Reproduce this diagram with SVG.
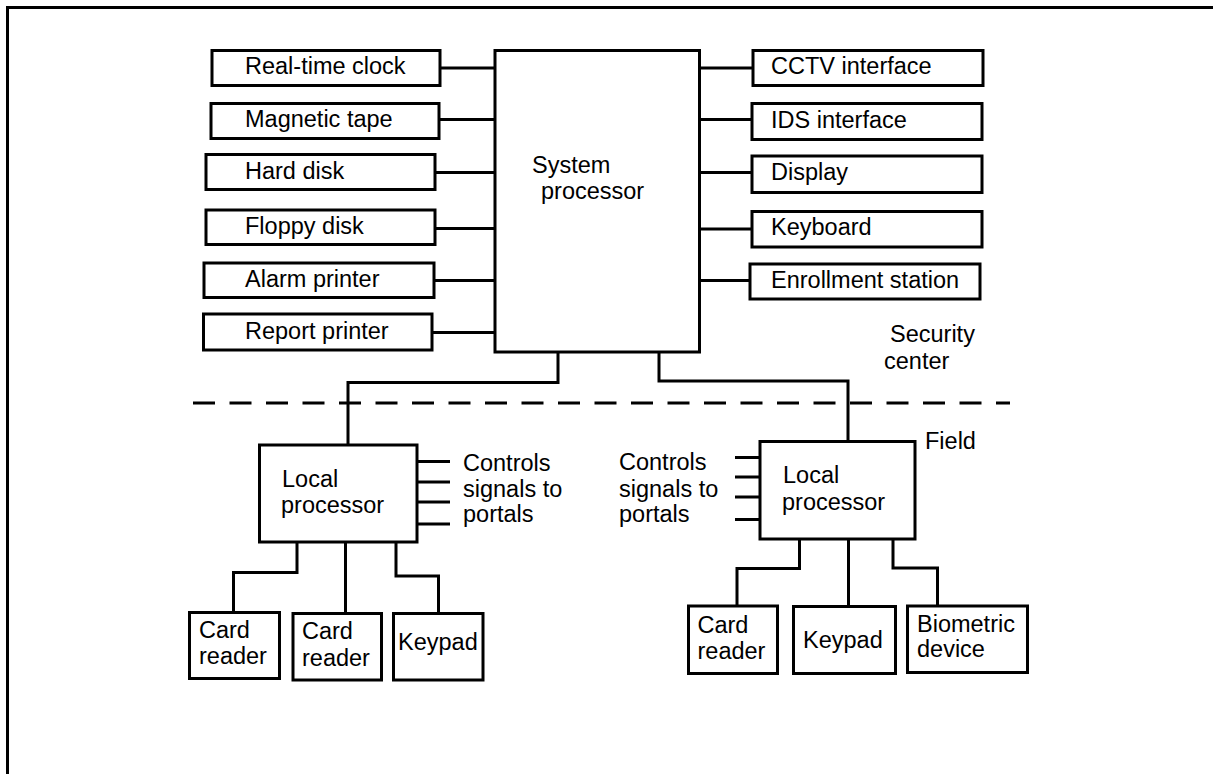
<svg xmlns="http://www.w3.org/2000/svg" width="1213" height="774" viewBox="0 0 1213 774">
<style>
.b{fill:#fff;stroke:#000;stroke-width:3}
.l{fill:none;stroke:#000;stroke-width:3}
.d{fill:none;stroke:#000;stroke-width:3;stroke-dasharray:22 14.5}
text{font-family:"Liberation Sans",Arial,sans-serif;font-size:23.5px;fill:#000}
</style>
<rect width="1213" height="774" fill="#fff"/>
<path class="l" d="M7.5,774 V7.5 H1213"/>
<g id="connectors">
<path class="l" d="M440,68 H495 M439,119.5 H495 M435,172.5 H495 M435,228.5 H495 M434,280.5 H495 M432,332.5 H495"/>
<path class="l" d="M699,68 H753 M699,119.5 H752 M699,172.5 H752 M699,229 H752 M699,280.5 H750"/>
<path class="l" d="M558,352 V382.5 H348 V445"/>
<path class="l" d="M659,352 V381 H848 V441.5"/>
<path class="d" d="M193,403 H1010"/>
<path class="l" d="M417,461.5 H450 M417,482 H450 M417,502 H450 M417,524 H450"/>
<path class="l" d="M735,457.5 H760 M735,477 H760 M735,497 H760 M735,519.5 H760"/>
<path class="l" d="M297,542 V572.5 H233.5 V612.5 M345.5,542 V613.5 M396,542 V576 H438.5 V613"/>
<path class="l" d="M799.5,539 V568.5 H737 V606 M848.5,539 V606.5 M893,539 V568 H937.5 V606"/>
</g>
<g id="n-sys"><rect class="b" x="495" y="50.5" width="204.5" height="301.5"/><text x="532" y="172.5">System</text><text x="541" y="198.5">processor</text></g>
<g id="n-rtc"><rect class="b" x="212" y="50.5" width="228" height="35"/><text x="245" y="74">Real-time clock</text></g>
<g id="n-mt"><rect class="b" x="211" y="103.5" width="228" height="35"/><text x="245" y="127">Magnetic tape</text></g>
<g id="n-hd"><rect class="b" x="206" y="154.5" width="229" height="35"/><text x="245" y="178.5">Hard disk</text></g>
<g id="n-fd"><rect class="b" x="206" y="210" width="229" height="34.5"/><text x="245" y="234">Floppy disk</text></g>
<g id="n-ap"><rect class="b" x="204" y="263" width="230" height="34.5"/><text x="245" y="287">Alarm printer</text></g>
<g id="n-rp"><rect class="b" x="203.5" y="314" width="228.5" height="36"/><text x="245" y="338.5">Report printer</text></g>
<g id="n-cctv"><rect class="b" x="753" y="50.5" width="230" height="35"/><text x="771" y="74">CCTV interface</text></g>
<g id="n-ids"><rect class="b" x="752" y="103.5" width="230" height="36"/><text x="771" y="127.5">IDS interface</text></g>
<g id="n-disp"><rect class="b" x="752" y="156" width="230" height="36.5"/><text x="771" y="180">Display</text></g>
<g id="n-kb"><rect class="b" x="752" y="211.5" width="230" height="35.5"/><text x="771" y="235">Keyboard</text></g>
<g id="n-enr"><rect class="b" x="750" y="264" width="230" height="35"/><text x="771" y="288">Enrollment station</text></g>
<g id="t-sec"><text x="890" y="342">Security</text><text x="884" y="369">center</text></g>
<g id="t-field"><text x="925" y="449">Field</text></g>
<g id="n-lp1"><rect class="b" x="259.5" y="445" width="157.5" height="97"/><text x="282" y="487">Local</text><text x="281" y="513">processor</text></g>
<g id="t-ctl1"><text x="463" y="471">Controls</text><text x="463" y="497">signals to</text><text x="463" y="522">portals</text></g>
<g id="n-lp2"><rect class="b" x="760" y="441.5" width="155" height="97.5"/><text x="783" y="483">Local</text><text x="782" y="509.5">processor</text></g>
<g id="t-ctl2"><text x="619" y="470">Controls</text><text x="619" y="496.5">signals to</text><text x="619" y="522">portals</text></g>
<g id="n-cr1"><rect class="b" x="189.5" y="612.5" width="90" height="66"/><text x="199" y="638">Card</text><text x="199" y="664">reader</text></g>
<g id="n-cr2"><rect class="b" x="293" y="613.5" width="88.5" height="66.5"/><text x="302" y="639">Card</text><text x="302" y="665.5">reader</text></g>
<g id="n-kp1"><rect class="b" x="393.5" y="613.5" width="89.5" height="66.5"/><text x="398" y="650">Keypad</text></g>
<g id="n-cr3"><rect class="b" x="688.5" y="606" width="89" height="67.5"/><text x="697.5" y="632.5">Card</text><text x="697.5" y="659">reader</text></g>
<g id="n-kp2"><rect class="b" x="793.5" y="606.5" width="102" height="67"/><text x="803" y="648">Keypad</text></g>
<g id="n-bio"><rect class="b" x="907.5" y="606" width="120" height="66.5"/><text x="917" y="631.5">Biometric</text><text x="917" y="657">device</text></g>
</svg>
